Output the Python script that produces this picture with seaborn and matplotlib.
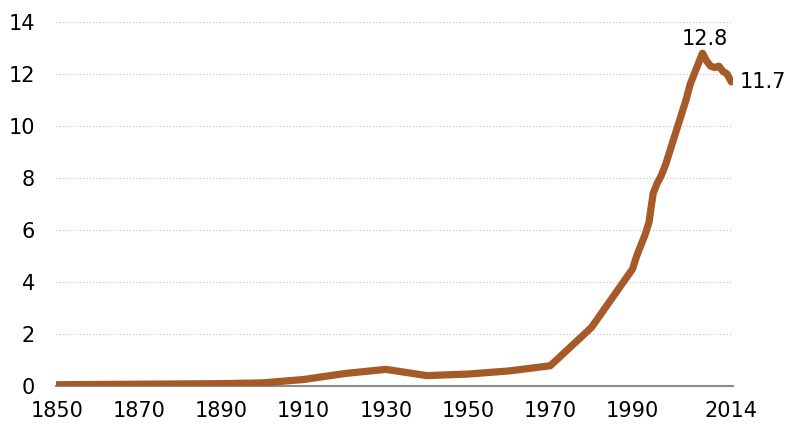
import seaborn as sns
import matplotlib.pyplot as plt
import pandas as pd

# decade values up to 1980, annual from 1990
years = [1850, 1860, 1870, 1880, 1890, 1900, 1910, 1920, 1930, 1940, 1950, 1960, 1970, 1980,
         1990, 1991, 1992, 1993, 1994, 1995, 1996, 1997, 1998, 1999, 2000, 2001, 2002,
         2003, 2004, 2005, 2006, 2007, 2008, 2009, 2010, 2011, 2012, 2013, 2014]
values = [0.05, 0.06, 0.07, 0.08, 0.09, 0.12, 0.25, 0.48, 0.64, 0.40, 0.46, 0.58, 0.78, 2.25,
          4.5, 5.0, 5.4, 5.8, 6.3, 7.4, 7.8, 8.1, 8.5, 9.0, 9.5, 10.0, 10.5,
          11.0, 11.6, 12.0, 12.4, 12.8, 12.5, 12.3, 12.25, 12.3, 12.1, 12.0, 11.7]
xticks = [1850, 1870, 1890, 1910, 1930, 1950, 1970, 1990, 2014]
yticks = [0, 2, 4, 6, 8, 10, 12, 14]

df = pd.DataFrame({'year': years, 'value': values})

sns.set_style('white')
plt.rcParams['font.family'] = ['DejaVu Sans']
plt.rcParams['text.color'] = 'black'
plt.rcParams['xtick.color'] = 'black'
plt.rcParams['ytick.color'] = 'black'

fig = plt.figure(figsize=(7.95, 4.28), dpi=100)
ax = fig.add_axes([0.0704, 0.0981, 0.852, 0.8505])

sns.lineplot(data=df, x='year', y='value', ax=ax, color='#A55A27', linewidth=5.2,
             solid_capstyle='round', solid_joinstyle='round')

ax.set_xlim(1849.8, 2014.5)
ax.set_ylim(0, 14)
ax.set_xticks(xticks)
ax.set_yticks(yticks)
ax.set_xticklabels([str(t) for t in xticks], fontsize=15)
ax.set_yticklabels([str(t) for t in yticks], fontsize=15)
ax.tick_params(axis='both', length=0)
ax.tick_params(axis='y', pad=15)
ax.tick_params(axis='x', pad=11)
ax.set_xlabel('')
ax.set_ylabel('')

ax.yaxis.grid(True, linestyle=(0, (1, 2)), color='#bdbdbd', linewidth=0.8)
ax.set_axisbelow(True)
for side in ['top', 'right', 'left']:
    ax.spines[side].set_visible(False)
ax.spines['bottom'].set_color('#8c8c8c')
ax.spines['bottom'].set_linewidth(1.5)
ax.spines['bottom'].set_zorder(1)

# value labels at peak and last point
peak_i = values.index(max(values))
ax.annotate('{:.1f}'.format(values[peak_i]), (years[peak_i], values[peak_i]),
            xytext=(2, 3), textcoords='offset points', ha='center', va='bottom', fontsize=15)
ax.annotate('{:.1f}'.format(values[-1]), (years[-1], values[-1]),
            xytext=(6, 0), textcoords='offset points', ha='left', va='center', fontsize=15,
            annotation_clip=False)

fig.savefig('out.png', dpi=100)
